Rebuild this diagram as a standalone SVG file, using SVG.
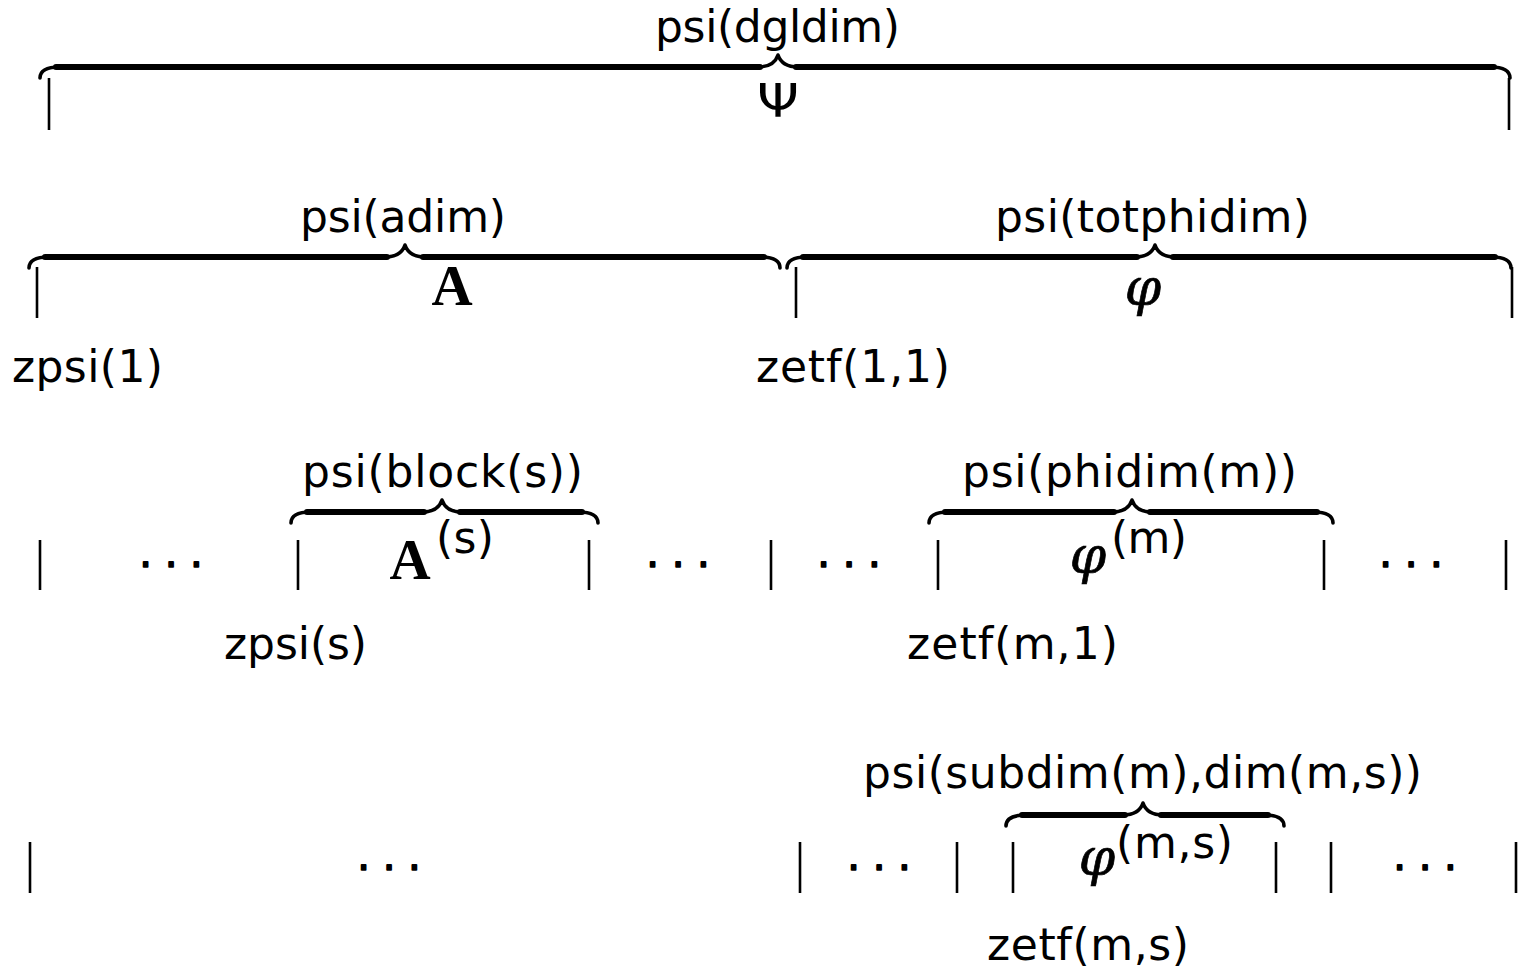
<svg xmlns="http://www.w3.org/2000/svg" width="1518" height="976" viewBox="0 0 1518 976">
<style>
.bg{fill:#fff}
.thin{fill:none;stroke:#000;stroke-width:3.6;stroke-linecap:round;stroke-linejoin:round}
.thick{fill:none;stroke:#000;stroke-width:6;stroke-linecap:round}
.bar{stroke:#000;stroke-width:2.6;stroke-linecap:butt}
.lbl{font-family:"DejaVu Sans","Liberation Sans",sans-serif;font-size:44px;fill:#000}
.bf{font-family:"Liberation Serif","DejaVu Serif",serif;font-weight:bold;font-size:57px;fill:#000}
.phi{font-family:"DejaVu Serif","Liberation Serif",serif;font-style:italic;font-size:52px;fill:#000;stroke:#000;stroke-width:0.7}
.psi{font-family:"DejaVu Sans","Liberation Sans",sans-serif;font-size:47px;fill:#000}
.dots{font-family:"DejaVu Sans",sans-serif;font-size:40px;fill:#000;stroke:#000;stroke-width:1.6;stroke-linejoin:round}
</style>
<rect class="bg" x="0" y="0" width="1518" height="976"/>

<g id="connectors">
  <g id="brace-psi">
    <path class="thin" d="M40 78 C40 71 46 67 60 67 L758 67 C768 67 775 64 778 55 C781 64 788 67 798 67 L1490 67 C1504 67 1510 71 1510 78"/>
    <path class="thick" d="M56 67 L760 67 M796 67 L1494 67"/>
  </g>
  <g id="brace-A">
    <path class="thin" d="M29 268 C29 261 35 257 49 257 L385 257 C395 257 402 254 405 245 C408 254 415 257 425 257 L760 257 C774 257 780 261 780 268"/>
    <path class="thick" d="M45 257 L387 257 M423 257 L764 257"/>
  </g>
  <g id="brace-phi">
    <path class="thin" d="M787 268 C787 261 793 257 807 257 L1135 257 C1145 257 1152 254 1155 245 C1158 254 1165 257 1175 257 L1491 257 C1505 257 1511 261 1511 268"/>
    <path class="thick" d="M803 257 L1137 257 M1173 257 L1495 257"/>
  </g>
  <g id="brace-As">
    <path class="thin" d="M291 523 C291 516 297 512 311 512 L422 512 C432 512 439 509 442 500 C445 509 452 512 462 512 L578 512 C592 512 598 516 598 523"/>
    <path class="thick" d="M307 512 L424 512 M460 512 L582 512"/>
  </g>
  <g id="brace-phim">
    <path class="thin" d="M929 523 C929 516 935 512 949 512 L1112 512 C1122 512 1129 509 1132 500 C1135 509 1142 512 1152 512 L1313 512 C1327 512 1333 516 1333 523"/>
    <path class="thick" d="M945 512 L1114 512 M1150 512 L1317 512"/>
  </g>
  <g id="brace-phims">
    <path class="thin" d="M1006 826 C1006 819 1012 815 1026 815 L1123 815 C1133 815 1140 812 1143 803 C1146 812 1153 815 1163 815 L1264 815 C1278 815 1284 819 1284 826"/>
    <path class="thick" d="M1022 815 L1125 815 M1161 815 L1268 815"/>
  </g>
</g>

<g id="row1">
  <text class="lbl" x="655" y="42" textLength="245" lengthAdjust="spacing">psi(dgldim)</text>
  <line class="bar" x1="49" y1="78" x2="49" y2="130"/>
  <line class="bar" x1="1509" y1="78" x2="1509" y2="130"/>
  <text class="psi" x="757" y="117" textLength="42" lengthAdjust="spacingAndGlyphs">Ψ</text>
</g>

<g id="row2">
  <text class="lbl" x="300" y="232" textLength="206" lengthAdjust="spacing">psi(adim)</text>
  <text class="lbl" x="995" y="232" textLength="315" lengthAdjust="spacing">psi(totphidim)</text>
  <line class="bar" x1="37" y1="267" x2="37" y2="318"/>
  <line class="bar" x1="796" y1="267" x2="796" y2="318"/>
  <line class="bar" x1="1512" y1="267" x2="1512" y2="318"/>
  <text class="bf" x="452" y="305" text-anchor="middle">A</text>
  <text class="phi" x="1143" y="305" text-anchor="middle">φ</text>
  <text class="lbl" x="12" y="382" textLength="151" lengthAdjust="spacing">zpsi(1)</text>
  <text class="lbl" x="756" y="382" textLength="194" lengthAdjust="spacing">zetf(1,1)</text>
</g>

<g id="row3">
  <text class="lbl" x="302" y="487" textLength="281" lengthAdjust="spacing">psi(block(s))</text>
  <text class="lbl" x="962" y="487" textLength="335" lengthAdjust="spacing">psi(phidim(m))</text>
  <line class="bar" x1="40" y1="540" x2="40" y2="590"/>
  <line class="bar" x1="298" y1="540" x2="298" y2="590"/>
  <line class="bar" x1="589" y1="540" x2="589" y2="590"/>
  <line class="bar" x1="771" y1="540" x2="771" y2="590"/>
  <line class="bar" x1="938" y1="540" x2="938" y2="590"/>
  <line class="bar" x1="1324" y1="540" x2="1324" y2="590"/>
  <line class="bar" x1="1506" y1="540" x2="1506" y2="590"/>
  <text class="dots" x="171" y="579" text-anchor="middle">· · ·</text>
  <text class="dots" x="678" y="579" text-anchor="middle">· · ·</text>
  <text class="dots" x="849" y="579" text-anchor="middle">· · ·</text>
  <text class="dots" x="1411" y="579" text-anchor="middle">· · ·</text>
  <text class="bf" x="410" y="579" text-anchor="middle">A</text>
  <text class="lbl" x="436" y="553" textLength="58" lengthAdjust="spacing">(s)</text>
  <text class="phi" x="1088" y="573" text-anchor="middle">φ</text>
  <text class="lbl" x="1111" y="553" textLength="76" lengthAdjust="spacing">(m)</text>
  <text class="lbl" x="224" y="659" textLength="143" lengthAdjust="spacing">zpsi(s)</text>
  <text class="lbl" x="907" y="659" textLength="211" lengthAdjust="spacing">zetf(m,1)</text>
</g>

<g id="row4">
  <text class="lbl" x="863" y="788" textLength="559" lengthAdjust="spacing">psi(subdim(m),dim(m,s))</text>
  <line class="bar" x1="30" y1="842" x2="30" y2="893"/>
  <line class="bar" x1="800" y1="842" x2="800" y2="893"/>
  <line class="bar" x1="957" y1="842" x2="957" y2="893"/>
  <line class="bar" x1="1013" y1="842" x2="1013" y2="893"/>
  <line class="bar" x1="1276" y1="842" x2="1276" y2="893"/>
  <line class="bar" x1="1331" y1="842" x2="1331" y2="893"/>
  <line class="bar" x1="1516" y1="842" x2="1516" y2="893"/>
  <text class="dots" x="389" y="882" text-anchor="middle">· · ·</text>
  <text class="dots" x="879" y="882" text-anchor="middle">· · ·</text>
  <text class="dots" x="1425" y="882" text-anchor="middle">· · ·</text>
  <text class="phi" x="1097" y="875" text-anchor="middle">φ</text>
  <text class="lbl" x="1116" y="858" textLength="117" lengthAdjust="spacing">(m,s)</text>
  <text class="lbl" x="987" y="960" textLength="202" lengthAdjust="spacing">zetf(m,s)</text>
</g>
</svg>
